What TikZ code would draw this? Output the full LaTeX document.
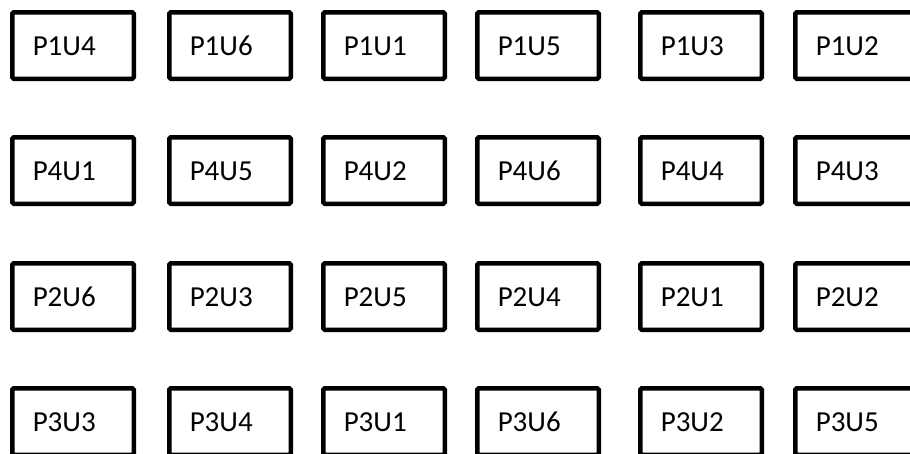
\documentclass[tikz,border=0pt]{standalone}
\usepackage{fontspec}
\setmainfont{Carlito}
\begin{document}
\begin{tikzpicture}[x=1pt,y=-1pt,
  cell/.style={draw=black, line width=4.5pt, rounded corners=1.5pt, rectangle,
    minimum height=66.5pt, text width=80.5pt, inner xsep=20.5pt, inner ysep=0pt,
    text height=20pt, text depth=0pt,
    align=left, font=\fontsize{29}{32}\selectfont, anchor=center}]
\useasboundingbox (0,0) rectangle (910,453);
\clip (0,0) rectangle (910,453);
\foreach \r/\ty/\la/\lb/\lc/\ld/\le/\lf in {
  1/10/P1U4/P1U6/P1U1/P1U5/P1U3/P1U2,
  2/135/P4U1/P4U5/P4U2/P4U6/P4U4/P4U3,
  3/261/P2U6/P2U3/P2U5/P2U4/P2U1/P2U2,
  4/386/P3U3/P3U4/P3U1/P3U6/P3U2/P3U5}{
  \node[cell] (b\r-1) at (10+63,\ty+35.5) {\la};
  \node[cell] (b\r-2) at (167+63,\ty+35.5) {\lb};
  \node[cell] (b\r-3) at (321+63,\ty+35.5) {\lc};
  \node[cell] (b\r-4) at (475+63,\ty+35.5) {\ld};
  \node[cell] (b\r-5) at (638+63,\ty+35.5) {\le};
  \node[cell] (b\r-6) at (793+63,\ty+35.5) {\lf};
}
\end{tikzpicture}
\end{document}
